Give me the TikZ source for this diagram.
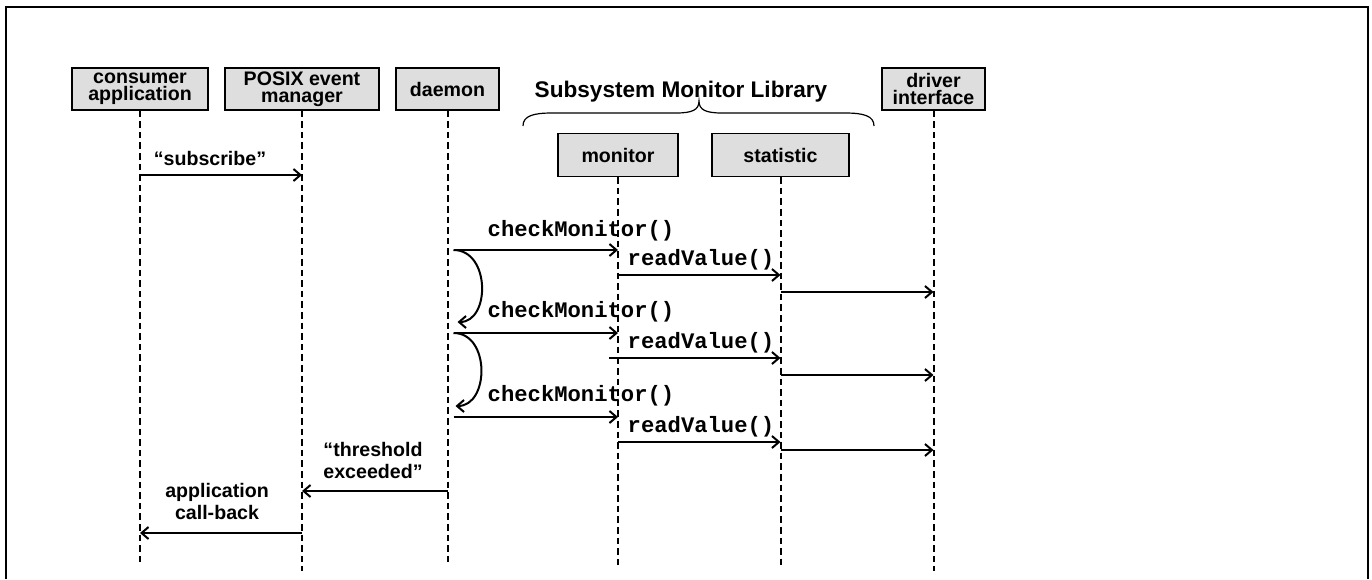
\documentclass[tikz,border=0pt]{standalone}
\usepackage{fontspec}
\setmainfont{Liberation Sans}
\setmonofont{Liberation Mono}
\usepackage{tikz}
\usetikzlibrary{arrows.meta}
\definecolor{boxgray}{gray}{0.87}
\newcommand{\boxfont}{\fontsize{9.8}{8.3}\selectfont\bfseries}
\newcommand{\notefont}{\fontsize{9.8}{11}\selectfont\bfseries}
\newcommand{\titlefont}{\fontsize{11.3}{13}\selectfont\bfseries}
\newcommand{\codefont}{\fontsize{11.1}{13}\selectfont\ttfamily\bfseries}
\tikzset{
    box/.style={draw, line width=0.6pt, fill=boxgray, minimum height=21pt, inner sep=0pt, align=center, font=\boxfont},
    lifeline/.style={line width=1pt, dash pattern=on 3.3pt off 2pt},
    msg/.style={line width=1pt, -{Straight Barb[length=3.5pt, width=6pt]}},
    note/.style={inner sep=0pt, align=center, font=\notefont},
    code/.style={inner sep=0pt, anchor=base, font=\codefont}
}

\begin{document}
\begin{tikzpicture}[x=0.5pt, y=-0.5pt]
            \useasboundingbox (0, 0) rectangle (1372, 579);
            \draw [line width=1pt] (6, 579) -- (6, 7) -- (1368, 7) -- (1368, 579);

            \node (cons) [box, minimum width=68pt] at (140, 89) {consumer\\application};
            \node (posix) [box, minimum width=77pt] at (302, 89) {POSIX event\\manager};
            \node (daemon) [box, minimum width=51.5pt] at (447.5, 89) {daemon};
            \node (monitor) [box, minimum width=60pt, minimum height=21.5pt] at (618, 155) {monitor};
            \node (statistic) [box, minimum width=68.5pt, minimum height=21.5pt] at (780.5, 155) {statistic};
            \node (driver) [box, minimum width=51.5pt] at (933.5, 89) {driver\\interface};

            \node (lib) [note, anchor=base, font=\titlefont] at (681, 97) {Subsystem Monitor Library};
            \draw [line width=0.6pt] (523, 126) .. controls (523, 116) and (533, 113) .. (552, 113) -- (676, 113)
                .. controls (692, 113) and (699, 110) .. (699, 101)
                .. controls (699, 110) and (706, 113) .. (722, 113) -- (845, 113)
                .. controls (864, 113) and (874, 116) .. (874, 126);

            \coordinate (r0) at (0, 175);
            \coordinate (r1) at (0, 250);
            \coordinate (r2) at (0, 275);
            \coordinate (r3) at (0, 292);
            \coordinate (r4) at (0, 333);
            \coordinate (r5) at (0, 358);
            \coordinate (r6) at (0, 375);
            \coordinate (r7) at (0, 417);
            \coordinate (r8) at (0, 442);
            \coordinate (r9) at (0, 450);
            \coordinate (r10) at (0, 491);
            \coordinate (r11) at (0, 533);
            \coordinate (bottom) at (0, 566);
            \coordinate (bottomlow) at (0, 571);

            \draw [lifeline] (cons.south) -- (cons |- bottom);
            \draw [lifeline] (posix.south) -- (posix |- bottomlow);
            \draw [lifeline] (daemon.south) -- (daemon |- bottom);
            \draw [lifeline] (monitor.south) -- (monitor |- bottom);
            \draw [lifeline] (statistic.south) -- (statistic |- bottom);
            \draw [lifeline] (driver.south) -- (driver |- bottomlow);

            \node (subscribe) [note, anchor=base] at (210, 165) {``subscribe''};
            \draw [msg] (cons |- r0) -- (posix |- r0);

            \node (check1) [code] at (581, 236) {checkMonitor()};
            \node (read1) [code] at (701, 265) {readValue()};
            \draw [msg] ([xshift=3pt]daemon |- r1) -- (monitor |- r1);
            \draw [msg] (monitor |- r2) -- (statistic |- r2);
            \draw [msg] (statistic |- r3) -- (driver |- r3);
            \draw [msg] ([xshift=3pt]daemon |- r1) .. controls +(37, 0) and +(33, 0) .. ([xshift=5pt, yshift=5.5pt]daemon |- r4);

            \node (check2) [code] at (581, 317) {checkMonitor()};
            \node (read2) [code] at (701, 348) {readValue()};
            \draw [msg] ([xshift=3pt]daemon |- r4) -- (monitor |- r4);
            \draw [msg] ([xshift=-4.5pt]monitor |- r5) -- (statistic |- r5);
            \draw [msg] (statistic |- r6) -- (driver |- r6);
            \draw [msg] ([xshift=3pt]daemon |- r4) .. controls +(37, 0) and +(34, 0) .. ([xshift=4pt, yshift=5.5pt]daemon |- r7);

            \node (check3) [code] at (581, 401) {checkMonitor()};
            \node (read3) [code] at (701, 432) {readValue()};
            \draw [msg] ([xshift=3pt]daemon |- r7) -- (monitor |- r7);
            \draw [msg] (monitor |- r8) -- (statistic |- r8);
            \draw [msg] (statistic |- r9) -- (driver |- r9);

            \node (threshold) [note] at (373, 460) {``threshold\\exceeded''};
            \draw [msg] (daemon |- r10) -- (posix |- r10);
            \node (callback) [note] at (217, 501) {application\\call-back};
            \draw [msg] (posix |- r11) -- (cons |- r11);
\end{tikzpicture}
\end{document}
